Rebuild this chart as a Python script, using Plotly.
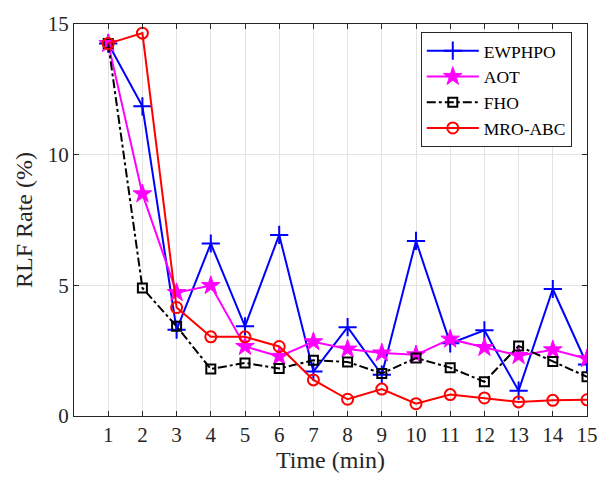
import plotly.graph_objects as go

time_min = list(range(1, 16))
ewphpo = [14.25, 11.85, 3.3, 6.6, 3.43, 6.93, 1.7, 3.4, 1.58, 6.7, 2.78, 3.28, 0.97, 4.86, 1.97]
aot = [14.25, 8.5, 4.72, 4.99, 2.66, 2.28, 2.84, 2.56, 2.41, 2.34, 2.94, 2.62, 2.31, 2.53, 2.19]
fho = [14.25, 4.9, 3.43, 1.8, 2.03, 1.82, 2.13, 2.07, 1.63, 2.22, 1.85, 1.31, 2.68, 2.09, 1.5]
mro_abc = [14.25, 14.65, 4.15, 3.03, 3.03, 2.66, 1.38, 0.64, 1.03, 0.47, 0.82, 0.69, 0.54, 0.6, 0.62]

y_ticks = [0, 5, 10, 15]

FONT = "Liberation Serif"

fig = go.Figure()
fig.add_trace(go.Scatter(
    x=time_min, y=ewphpo, name="EWPHPO", mode="lines+markers",
    line=dict(color="#0000ff", width=2),
    marker=dict(symbol="cross-thin-open", size=13, color="#0000ff",
                line=dict(color="#0000ff", width=2)),
))
fig.add_trace(go.Scatter(
    x=time_min, y=aot, name="AOT", mode="lines+markers",
    line=dict(color="#ff00ff", width=2),
    marker=dict(symbol="star", size=14, color="#ff00ff",
                line=dict(color="#ff00ff", width=1)),
))
fig.add_trace(go.Scatter(
    x=time_min, y=fho, name="FHO", mode="lines+markers",
    line=dict(color="#000000", width=2, dash="dashdot"),
    marker=dict(symbol="square-open", size=9, color="#000000",
                line=dict(color="#000000", width=2)),
))
fig.add_trace(go.Scatter(
    x=time_min, y=mro_abc, name="MRO-ABC", mode="lines+markers",
    line=dict(color="#ff0000", width=2),
    marker=dict(symbol="circle-open", size=11, color="#ff0000",
                line=dict(color="#ff0000", width=2)),
))

axis_common = dict(
    showgrid=True, gridcolor="#e3e3e3", gridwidth=1,
    showline=True, linecolor="#262626", linewidth=1, mirror="ticks",
    ticks="inside", ticklen=5, tickcolor="#262626",
    tickfont=dict(family=FONT, size=21, color="#262626"),
    zeroline=False,
)

fig.update_layout(
    width=610, height=484,
    margin=dict(l=74, r=15, t=15, b=68),
    paper_bgcolor="white", plot_bgcolor="white",
    font=dict(family=FONT, color="#262626"),
    showlegend=True,
    legend=dict(
        x=0.676, y=0.98, xanchor="left", yanchor="top",
        bgcolor="white", bordercolor="#262626", borderwidth=1,
        font=dict(family=FONT, size=17.5, color="#000000"),
        tracegroupgap=0, itemwidth=52,
    ),
    xaxis=dict(
        range=[0, 15], tickvals=time_min,
        title=dict(text="Time (min)", font=dict(family=FONT, size=24, color="#262626"), standoff=4),
        **axis_common,
    ),
    yaxis=dict(
        range=[0, 15], tickvals=y_ticks,
        title=dict(text="RLF Rate (%)", font=dict(family=FONT, size=24, color="#262626"), standoff=8),
        **axis_common,
    ),
)

fig.write_html("out.html")
